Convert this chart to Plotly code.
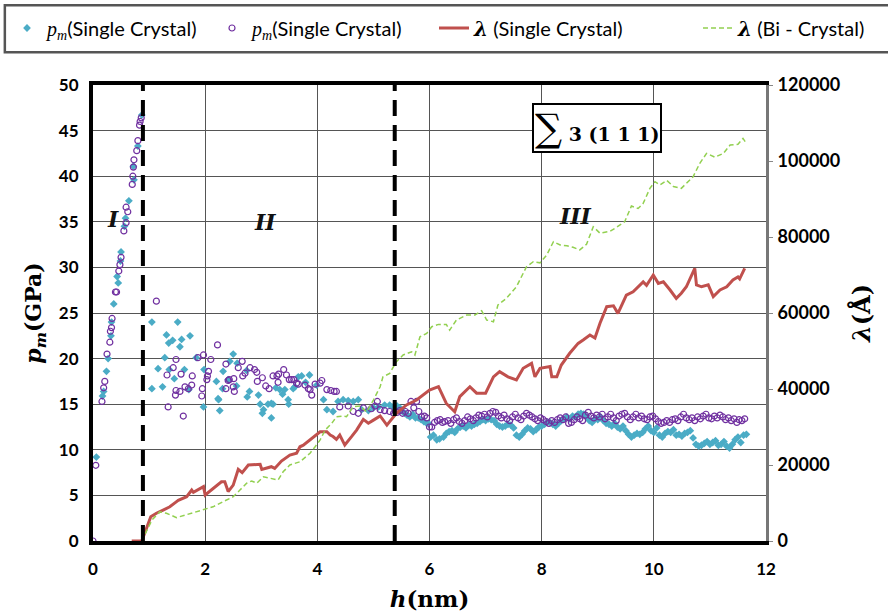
import plotly.graph_objects as go

# ---------------- data ----------------
# p_m (Single Crystal) - blue diamonds
blue_h = [0.06, 0.17, 0.19, 0.24, 0.27, 0.32, 0.33, 0.37, 0.45, 0.43, 0.49, 0.50,
          0.56, 0.58, 0.64, 0.73, 0.72, 0.80, 0.87,
          1.05, 1.51, 1.31, 1.73, 1.35, 1.42, 1.58, 1.55, 1.28, 1.84, 1.16, 1.36, 1.63, 1.98,
          2.50, 2.44, 2.57, 2.74, 2.32, 1.45, 2.20, 2.41, 2.56, 2.31, 1.05, 1.24, 1.71, 2.79,
          2.75, 2.95, 2.23, 2.24, 1.97, 2.26, 2.98, 3.04, 3.12, 3.18, 3.21, 3.02, 3.18, 3.26,
          3.33, 3.38, 3.42, 3.48, 3.49, 3.57, 3.66, 3.60, 3.72, 3.86, 3.79, 3.99, 4.11, 4.17,
          4.28, 4.37, 4.46, 4.55, 4.64, 4.73, 4.79, 4.91, 5.00, 5.09, 5.20, 5.29, 5.35,
          5.42, 5.47, 5.52, 5.56, 5.60, 5.65, 5.70, 5.75, 5.80, 5.85, 5.90, 5.95, 5.98,
          6.02, 6.07, 6.13, 6.18, 6.25, 6.30, 6.35, 6.40, 6.45, 6.50, 6.55, 6.60, 6.65,
          6.70, 6.75, 6.80, 6.85, 6.90, 6.95, 7.00, 7.05, 7.10, 7.15, 7.20, 7.25, 7.30,
          7.35, 7.40, 7.45, 7.50, 7.55, 7.60, 7.65, 7.70, 7.75, 7.80, 7.85, 7.90, 7.95,
          8.00, 8.05, 8.10, 8.15, 8.20, 8.25, 8.30, 8.35, 8.40, 8.45, 8.50, 8.55, 8.60,
          8.65, 8.70, 8.75, 8.80, 8.85, 8.90, 8.95, 9.00, 9.05, 9.10, 9.15, 9.20, 9.25,
          9.30, 9.35, 9.40, 9.45, 9.50, 9.55, 9.60, 9.65, 9.70, 9.75, 9.80, 9.85, 9.90,
          9.95, 10.00, 10.05, 10.10, 10.15, 10.20, 10.25, 10.30, 10.35, 10.40, 10.45,
          10.50, 10.55, 10.60, 10.65, 10.70, 10.75, 10.80, 10.85, 10.90, 10.95, 11.00,
          11.05, 11.10, 11.15, 11.20, 11.25, 11.30, 11.35, 11.40, 11.45, 11.50, 11.55,
          11.60, 11.65]
blue_p = [9.2, 15.9, 16.4, 18.6, 20.0, 22.5, 24.0, 26.0, 28.3, 29.0, 30.7, 31.7,
          34.5, 35.4, 37.3, 39.6, 41.1, 43.3, 46.7,
          24.0, 24.0, 22.6, 22.5, 21.7, 22.0, 22.1, 21.3, 20.1, 20.1, 18.9, 18.8, 18.8, 18.8,
          20.5, 19.7, 19.5, 18.7, 18.6, 17.8, 17.5, 17.7, 17.0, 16.7, 16.7, 16.9, 16.6, 16.4,
          15.8, 16.0, 15.6, 15.5, 14.7, 14.3, 15.0, 14.4, 15.0, 15.1, 15.0, 14.0, 13.5, 16.8,
          16.6, 16.1, 16.6, 15.5, 15.0, 16.7, 18.0, 16.9, 18.1, 18.2, 17.4, 17.1, 15.5, 14.4,
          14.2, 15.3, 15.5, 15.4, 15.3, 15.5, 14.4, 14.3, 14.6, 14.7, 14.9, 14.9, 14.7,
          14.8, 14.6, 14.2, 14.0, 13.8, 13.6, 13.9, 13.5, 13.5, 13.3, 13.1, 12.9, 12.9,
          11.4, 11.6, 11.1, 11.2, 11.4, 11.8, 12.0, 12.1, 11.9, 12.3, 12.5, 12.6, 12.4,
          12.7, 12.6, 12.8, 12.9, 13.1, 13.3, 13.2, 13.4, 13.3, 13.2, 12.8, 12.6, 12.5,
          12.6, 12.8, 12.7, 12.4, 11.6, 11.4, 11.7, 12.1, 12.4, 12.3, 12.0, 12.2, 12.5,
          12.6, 12.8, 13.0, 13.0, 12.8, 12.6, 12.9, 13.2, 13.4, 13.6, 13.4, 13.7, 13.6,
          13.9, 14.0, 13.9, 13.6, 13.2, 13.0, 13.4, 13.3, 13.6, 13.2, 12.9, 12.8, 12.6,
          12.9, 12.5, 12.3, 12.6, 12.1, 11.7, 11.4, 11.6, 11.8, 11.7, 11.9, 12.3, 12.6,
          12.1, 11.9, 12.4, 11.6, 11.4, 11.8, 12.0, 11.9, 12.2, 11.6, 11.7,
          11.5, 11.8, 11.9, 12.1, 11.3, 10.6, 10.4, 10.5, 10.7, 10.9, 10.6,
          10.8, 11.0, 10.5, 10.6, 10.9, 10.4, 10.2, 10.6, 11.1, 11.4, 10.8,
          11.6, 11.7]

# p_m (Single Crystal) - purple open circles
purple_h = [0.00, 0.05, 0.16, 0.19, 0.21, 0.25, 0.30, 0.31, 0.33, 0.34, 0.40, 0.42, 0.46,
            0.48, 0.50, 0.55, 0.59, 0.62, 0.59, 0.70, 0.71, 0.72, 0.73, 0.78, 0.80, 0.83,
            0.84, 0.86,
            1.13, 2.22, 1.97, 1.87, 2.10, 1.48, 2.37, 2.66, 1.43, 2.06, 2.59, 1.32, 1.57,
            1.77, 2.04, 2.51, 2.41, 2.67, 2.80, 2.88, 2.92, 2.71, 3.02, 2.93, 2.03, 2.43,
            3.08, 3.14, 3.21, 3.28, 3.31, 3.40, 3.45, 3.50, 3.30, 3.58, 3.63, 1.64, 1.76,
            1.48, 1.55, 1.70, 1.47, 1.95, 1.94, 2.37, 2.52, 2.50, 1.34, 1.61,
            3.54, 3.66, 3.78, 3.84, 3.87, 3.90, 3.96, 4.08, 4.05, 4.17, 4.24, 4.30, 4.34,
            4.40, 4.55, 4.64, 4.73, 4.82, 4.96, 5.03, 5.07, 5.12, 5.20, 5.29, 5.36,
            5.42, 5.47, 5.52, 5.57, 5.62, 5.67, 5.72, 5.77, 5.81, 5.86, 5.91, 5.95, 6.00,
            6.04, 6.09, 6.14, 6.19, 6.23, 6.27, 6.33, 6.38, 6.43, 6.48, 6.53, 6.58, 6.63,
            6.68, 6.73, 6.78, 6.83, 6.88, 6.93, 6.98, 7.03, 7.08, 7.13, 7.18, 7.23, 7.28,
            7.33, 7.38, 7.43, 7.48, 7.53, 7.58, 7.63, 7.68, 7.73, 7.78, 7.83, 7.88, 7.93,
            7.98, 8.03, 8.08, 8.13, 8.18, 8.23, 8.28, 8.33, 8.38, 8.43, 8.48, 8.53, 8.58,
            8.63, 8.68, 8.73, 8.78, 8.83, 8.88, 8.93, 8.98, 9.03, 9.08, 9.13, 9.18, 9.23,
            9.28, 9.33, 9.38, 9.43, 9.48, 9.53, 9.58, 9.63, 9.68, 9.73, 9.78, 9.83, 9.88,
            9.93, 9.98, 10.03, 10.08, 10.13, 10.18, 10.23, 10.28, 10.33, 10.38, 10.43,
            10.48, 10.53, 10.58, 10.63, 10.68, 10.73, 10.78, 10.83, 10.88, 10.93, 10.98,
            11.03, 11.08, 11.13, 11.18, 11.23, 11.28, 11.33, 11.38, 11.43, 11.48, 11.52,
            11.57, 11.62]
purple_p = [0.0, 8.3, 15.3, 16.8, 17.5, 20.5, 21.8, 23.0, 23.4, 24.4, 27.3, 27.3, 29.6,
            30.3, 31.1, 34.0, 34.9, 36.1, 36.6, 39.1, 40.0, 41.0, 41.8, 42.8, 43.9, 45.6,
            46.0, 46.4,
            26.3, 21.5, 20.4, 20.1, 19.9, 19.9, 19.4, 19.7, 19.0, 18.6, 19.0, 18.2, 18.3,
            18.1, 18.1, 17.8, 17.6, 18.1, 19.0, 18.8, 18.5, 18.4, 17.9, 17.5, 17.7, 17.7,
            17.0, 16.7, 18.1, 18.1, 18.3, 18.8, 18.2, 17.7, 17.4, 17.7, 17.3, 16.9, 17.1,
            16.5, 16.4, 16.7, 16.0, 16.7, 15.9, 16.7, 16.4, 16.9, 14.7, 13.7,
            17.7, 17.2, 17.1, 16.7, 16.6, 16.0, 17.2, 17.6, 17.3, 16.6, 16.5, 16.4, 16.4,
            14.7, 14.8, 14.2, 14.0, 14.6, 14.5, 14.8, 15.3, 14.4, 14.3, 14.2, 14.0,
            14.1, 14.3, 14.0, 14.2, 14.0, 15.3, 14.6, 15.3, 14.2, 13.6, 13.7, 13.5, 12.5,
            12.5, 13.0, 13.2, 13.3, 13.0, 13.1, 13.2, 12.9, 13.3, 13.5, 13.1, 12.9, 13.2,
            13.6, 13.4, 13.2, 13.5, 13.8, 13.7, 13.9, 13.6, 14.0, 14.2, 14.1, 13.7, 13.5,
            13.8, 13.4, 13.2, 13.6, 13.9, 13.5, 13.3, 13.7, 14.0, 13.8, 13.6, 13.4, 13.2,
            13.5, 13.3, 13.1, 12.9, 13.2, 13.0, 13.3, 13.5, 13.3, 13.6, 12.9, 13.0, 13.3,
            13.6, 13.4, 13.2, 13.8, 14.1, 13.7, 13.5, 13.8, 13.6, 13.9, 13.4, 13.6, 13.9,
            13.5, 13.2, 13.7, 13.9, 14.0, 13.6, 13.3, 13.6, 13.9, 13.5, 13.7, 13.4, 13.3,
            13.6, 13.7, 13.4, 13.1, 12.9, 13.0, 13.2, 13.0, 13.3, 13.4, 13.2,
            13.6, 13.9, 13.5, 13.3, 13.5, 13.2, 13.6, 13.4, 13.7, 13.9, 13.5,
            13.4, 13.7, 13.5, 13.8, 13.6, 13.3, 13.5, 13.2, 13.4, 13.0, 13.3,
            13.2, 13.4]

# lambda (Single Crystal) - red line (right axis, Angstrom)
red_h = [0.69, 0.87, 1.03, 1.13, 1.25, 1.37, 1.49, 1.52, 1.67, 1.76, 1.79, 1.97, 2.00,
         2.14, 2.29, 2.35, 2.41, 2.50, 2.59, 2.66, 2.77, 2.98, 3.01, 3.18, 3.24, 3.36,
         3.51, 3.63, 3.69, 3.75, 3.93, 4.05, 4.17, 4.23, 4.28, 4.34, 4.40, 4.49, 4.61,
         4.70, 4.82, 4.91, 5.00, 5.12, 5.24, 5.41, 5.59, 5.77, 6.00, 6.16, 6.30, 6.45,
         6.54, 6.72, 6.84, 7.00, 7.14, 7.25, 7.40, 7.55, 7.67, 7.82, 7.88, 7.97, 8.15,
         8.18, 8.27, 8.35, 8.50, 8.65, 8.74, 8.86, 8.95, 9.04, 9.16, 9.28, 9.36, 9.51,
         9.63, 9.69, 9.81, 9.87, 9.99, 10.08, 10.17, 10.29, 10.40, 10.49, 10.58, 10.73,
         10.76, 10.85, 10.97, 11.06, 11.18, 11.30, 11.41, 11.50, 11.53, 11.62]
red_lam = [0, 0, 6400, 7300, 8150, 9000, 10350, 10700, 11650, 13400, 12800, 14300, 12100,
           13850, 15600, 15600, 13000, 14700, 18850, 18000, 20000, 20200, 18850, 19550,
           19100, 21050, 22600, 23100, 24800, 25200, 27450, 28750, 28750, 27900, 27500,
           26750, 27900, 25250, 27450, 29200, 32000, 31000, 31800, 32900, 30500, 33600,
           35800, 37100, 39700, 40600, 36200, 34000, 38000, 40600, 38900, 38900, 43200,
           44550, 43200, 42400, 45450, 46750, 43200, 45450, 45900, 43200, 43200, 46300,
           49400, 52000, 52900, 54200, 53400, 57300, 61650, 61900, 59900, 64700, 65600,
           66500, 68200, 67300, 70000, 67800, 68200, 66050, 63850, 65200, 66900, 71750,
           67400, 66900, 67400, 64300, 66050, 66900, 68700, 69500, 69000, 71750]

# lambda (Bi - Crystal) - green dashed line (right axis, Angstrom)
green_h = [0.87, 1.05, 1.19, 1.31, 1.49, 1.64, 1.79, 1.97, 2.14, 2.32, 2.50, 2.62, 2.74,
           2.83, 2.92, 3.04, 3.18, 3.30, 3.39, 3.51, 3.69, 3.87, 3.96, 4.05, 4.14, 4.26,
           4.34, 4.46, 4.52, 4.64, 4.76, 4.88, 5.00, 5.12, 5.17, 5.29, 5.41, 5.53, 5.68,
           5.74, 5.83, 5.95, 6.04, 6.16, 6.30, 6.36, 6.48, 6.66, 6.81, 6.93, 7.02, 7.14,
           7.22, 7.37, 7.55, 7.73, 7.85, 7.97, 8.09, 8.21, 8.33, 8.45, 8.56, 8.68, 8.80,
           8.92, 9.04, 9.22, 9.33, 9.48, 9.60, 9.72, 9.81, 9.93, 10.02, 10.11, 10.23,
           10.35, 10.49, 10.58, 10.70, 10.82, 10.94, 11.09, 11.24, 11.36, 11.50, 11.59,
           11.65]
green_lam = [0, 5500, 7700, 7300, 6150, 6800, 7300, 8150, 9000, 10350, 11650, 13400, 15200,
             15800, 15200, 16900, 16400, 16050, 18200, 20000, 20850, 23100, 24800, 26600,
             29200, 31000, 32700, 32900, 32700, 35350, 35500, 34000, 37100, 40600, 43200,
             44100, 47200, 48950, 49800, 48950, 53750, 54650, 56400, 57000, 57000, 55500,
             58150, 59450, 59450, 60600, 58150, 57700, 62100, 63850, 66900, 72200, 73500,
             73200, 75250, 78750, 77900, 77700, 77300, 76600, 78100, 82700, 81000, 81500,
             82500, 84000, 88150, 87500, 88850, 92800, 94550, 93700, 94900, 93300, 92800,
             94000, 95850, 99400, 102000, 101000, 102000, 104200, 104400, 105950, 104650]

x_ticks = [0, 2, 4, 6, 8, 10, 12]
y_ticks = [0, 5, 10, 15, 20, 25, 30, 35, 40, 45, 50]
y2_ticks = [0, 20000, 40000, 60000, 80000, 100000, 120000]
stage_bounds = [0.89, 5.38]
stage_labels = ["I", "II", "III"]
stage_label_pos = [(0.36, 35.3), (3.07, 35.0), (8.6, 35.6)]

# ---------------- figure ----------------
SANS = "Lato, 'Open Sans', sans-serif"
SERIF = "'DejaVu Serif', 'Liberation Serif', serif"
PM = "<span style='font-family:Liberation Serif'><i>p<sub>m</sub></i></span>"
LAM = "<span style='font-family:DejaVu Serif'><b><i>λ</i></b></span>"

fig = go.Figure()
fig.add_trace(go.Scatter(
    x=blue_h, y=blue_p, mode="markers", yaxis="y", legend="legend",
    marker=dict(symbol="diamond", size=6, color="#4BACC6", line=dict(width=0)),
    name=PM + "(Single Crystal)"))
fig.add_trace(go.Scatter(
    x=purple_h, y=purple_p, mode="markers", yaxis="y", legend="legend2",
    marker=dict(symbol="circle-open", size=6, color="#7030A0", line=dict(width=1.2)),
    name=PM + "(Single Crystal)"))
fig.add_trace(go.Scatter(
    x=red_h, y=red_lam, mode="lines", yaxis="y2", legend="legend3",
    line=dict(color="#C0504D", width=3),
    name=LAM + " (Single Crystal)"))
fig.add_trace(go.Scatter(
    x=green_h, y=green_lam, mode="lines", yaxis="y2", legend="legend4",
    line=dict(color="#92D050", width=1.5, dash="5px,3px"),
    name=LAM + " (Bi - Crystal)"))

shapes = []
for xb in stage_bounds:
    shapes.append(dict(type="line", xref="x", yref="y", x0=xb, x1=xb, y0=0, y1=50,
                       line=dict(color="black", width=4, dash="16px,9px"), layer="above"))
# legend frame (page px 5..>888, 5..52)
shapes.append(dict(type="rect", xref="paper", yref="paper", x0=-0.131, x1=1.2,
                   y0=1.072, y1=1.175, line=dict(color="#555", width=2.5),
                   fillcolor="rgba(0,0,0,0)"))

annotations = []
for lab, (hx, py) in zip(stage_labels, stage_label_pos):
    annotations.append(dict(x=hx, y=py, xref="x", yref="y", text=f"<b><i>{lab}</i></b>",
                            showarrow=False, font=dict(family=SERIF, size=22, color="#111")))
annotations.append(dict(
    x=8.98, y=45.3, xref="x", yref="y", showarrow=False,
    text="<span style='font-size:38px'>∑</span><b> 3 (1 1 1)</b>",
    font=dict(family=SERIF, size=19, color="black"),
    bordercolor="black", borderwidth=2, borderpad=1, bgcolor="white"))

def leg(xpx):
    return dict(orientation="h", xref="container", yref="container",
                x=xpx / 888, y=1 - 28 / 615, xanchor="left", yanchor="middle",
                font=dict(family=SANS, size=20, color="black"),
                bgcolor="rgba(0,0,0,0)", borderwidth=0, itemwidth=30)

fig.update_layout(
    width=888, height=615,
    margin=dict(l=93, r=122, t=85, b=74, autoexpand=False),
    paper_bgcolor="white", plot_bgcolor="white",
    font=dict(color="black"),
    shapes=shapes, annotations=annotations,
    showlegend=True,
    legend=leg(7), legend2=leg(212), legend3=leg(434), legend4=leg(698),
    xaxis=dict(range=[0, 12], tickvals=x_ticks, showgrid=True, gridcolor="#555",
               gridwidth=1, zeroline=False, showline=True, linecolor="black",
               linewidth=4, mirror=True, ticks="", ticklabelstandoff=10,
               automargin=False,
               tickfont=dict(family=SANS, size=17, weight="bold", color="black"),
               title=dict(text="<b><i>h</i>(nm)</b>", font=dict(family=SERIF, size=23, color="black"),
                          standoff=13)),
    yaxis=dict(range=[0, 50], tickvals=y_ticks, showgrid=True, gridcolor="#555",
               gridwidth=1, zeroline=False, showline=True, linecolor="black",
               linewidth=4, ticks="", ticklabelstandoff=7, automargin=False,
               tickfont=dict(family=SANS, size=17, weight="bold", color="black"),
               title=dict(text="<b><i>p<sub>m</sub></i>(GPa)</b>",
                          font=dict(family=SERIF, size=22, color="black"), standoff=12)),
    yaxis2=dict(range=[0, 120000], tickvals=y2_ticks, overlaying="y", side="right",
                showgrid=False, zeroline=False, showline=True, linecolor="#777",
                linewidth=3, ticks="outside", ticklen=4, tickcolor="#888",
                tickformat="d", ticklabelstandoff=1, automargin=False,
                tickfont=dict(family=SANS, size=18, weight="bold", color="black"),
                title=dict(text="<b><i>λ</i>(Å)</b>", font=dict(family=SERIF, size=24, color="black"),
                           standoff=14)),
)

fig.write_html("out.html", post_script="document.body.style.margin='0px';",
               config={"displayModeBar": False})
